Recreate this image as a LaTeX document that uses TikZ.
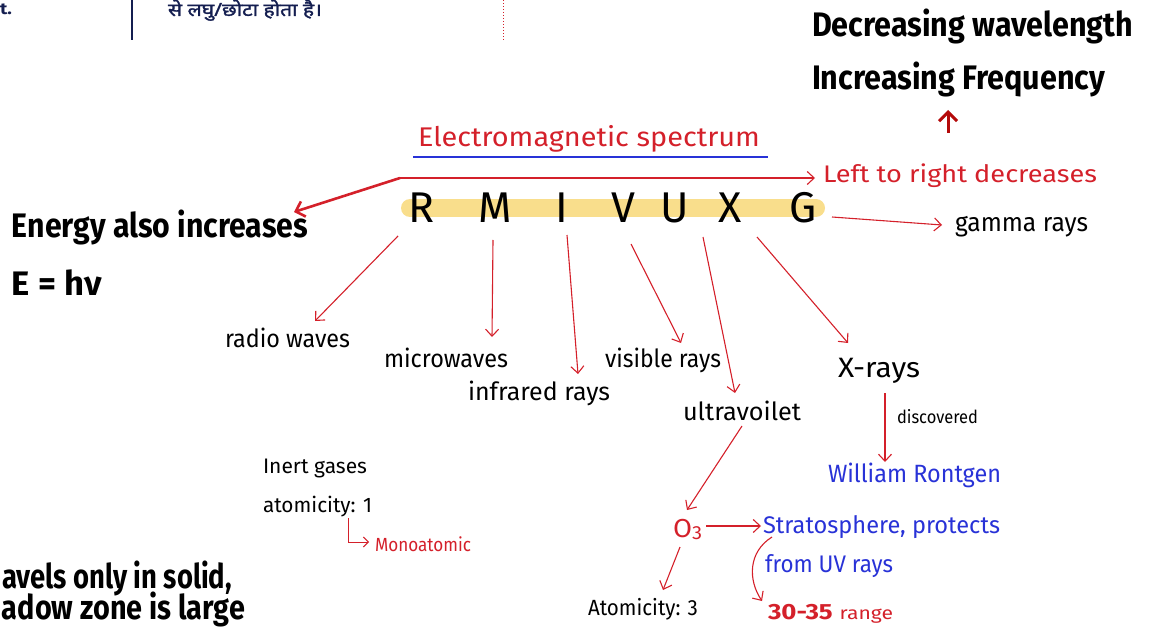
\documentclass[tikz,border=0pt]{standalone}
\usepackage{fontspec}
\setmainfont{Fira Sans}
\newfontfamily\deva[Script=Devanagari, FakeBold=1.5]{Noto Sans}
\usetikzlibrary{arrows.meta}
\definecolor{hred}{RGB}{212,32,42}
\definecolor{dred}{RGB}{180,10,10}
\definecolor{hblue}{RGB}{40,50,215}
\definecolor{hyel}{RGB}{249,222,140}
\definecolor{navy}{RGB}{20,30,80}
\newcommand{\fitw}[3]{\resizebox{#1pt}{\height}{\fontsize{#2}{#2}\selectfont #3}}
\tikzset{
  lab/.style={anchor=base west, inner sep=0pt, outer sep=0pt, text=black},
  rlab/.style={lab, text=hred},
  blab/.style={lab, text=hblue},
  harr/.style={draw=hred, line width=1.1pt, -{Straight Barb[length=7pt,width=13pt]}},
  letter/.style={anchor=base, inner sep=0pt, font=\fontsize{43}{43}\selectfont}
}
\begin{document}
\begin{tikzpicture}[x=1pt,y=-1pt]
\useasboundingbox (0,0) rectangle (1150,628);
% header strip
\node[lab, text=navy] (tdot) at (0,15) {\fitw{12}{16}{\bfseries t.}};
\coordinate (vl1) at (132,0); \coordinate (vl2) at (132,40);
\draw[navy, line width=2.5pt] (vl1) -- (vl2);
\node[lab, text=navy] (hindi) at (168,16) {\fitw{154}{18}{\deva से लघु/छोटा होता है।}};
\coordinate (dl1) at (503,0); \coordinate (dl2) at (503,42);
\draw[hred, line width=0.8pt, dash pattern=on 1.5pt off 1.5pt] (dl1) -- (dl2);
% titles top right
\node[lab] (dec) at (812,37) {\fitw{321}{34}{\bfseries Decreasing wavelength}};
\node[lab] (inc) at (812,90) {\fitw{293}{34}{\bfseries Increasing Frequency}};
\coordinate (upS) at (948,133); \coordinate (upE) at (948,110);
\draw[dred, line width=3pt, -{Straight Barb[length=9pt,width=18pt]}] (upS) -- (upE);
% title
\node[rlab] (ems) at (418,147) {\fitw{342}{27}{Electromagnetic spectrum}};
\coordinate (ul1) at (413,157); \coordinate (ul2) at (768,157);
\draw[hblue, line width=2pt] (ul1) -- (ul2);
% left to right
\coordinate (lrS) at (400,178); \coordinate (lrE) at (815,178);
\draw[harr] (lrS) -- (lrE);
\node[rlab] (ltr) at (823,183) {\fitw{274}{24}{Left to right decreases}};
\coordinate (enE) at (294,212);
\draw[hred, line width=2.6pt, -{Straight Barb[length=8pt,width=16pt]}] (lrS) -- (enE);
% yellow bar and letters
\coordinate (yb1) at (410,208); \coordinate (yb2) at (816,208);
\draw[hyel, line width=18pt, line cap=round] (yb1) -- (yb2);
\node[letter] (R) at (422,223) {R};
\node[letter] (M) at (495,223) {M};
\node[letter] (I) at (562,223) {I};
\node[letter] (V) at (623,223) {V};
\node[letter] (U) at (675,223) {U};
\node[letter] (X) at (730,223) {X};
\node[letter] (G) at (803,223) {G};
% gamma
\coordinate (gS) at (832,217); \coordinate (gE) at (942,225);
\draw[harr] (gS) -- (gE);
\node[lab] (gam) at (955,232) {\fitw{133}{26}{gamma rays}};
% energy
\node[lab] (energy) at (12,238) {\fitw{296}{34}{\bfseries Energy also increases}};
\node[lab] (ehv) at (12,295) {\fitw{90}{34}{\bfseries E = hν}};
% branches
\coordinate (rS) at (398,236); \coordinate (rE) at (315,321);
\draw[harr] (rS) -- (rE);
\node[lab] (radio) at (225,347) {\fitw{125}{25}{radio waves}};
\coordinate (mS) at (493,240); \coordinate (mE) at (492,337);
\draw[harr] (mS) -- (mE);
\node[lab] (micro) at (384,367) {\fitw{124}{25}{microwaves}};
\coordinate (iS) at (567,235); \coordinate (iE) at (578,374);
\draw[harr] (iS) -- (iE);
\node[lab] (infra) at (468,400) {\fitw{142}{25}{infrared rays}};
\coordinate (vS) at (631,244); \coordinate (vE) at (681,343);
\draw[harr] (vS) -- (vE);
\node[lab] (vis) at (605,367) {\fitw{116}{25}{visible rays}};
\coordinate (uS) at (703,237); \coordinate (uE) at (735,393);
\draw[harr] (uS) -- (uE);
\node[lab] (uv) at (683,420) {\fitw{118}{25}{ultravoilet}};
\coordinate (xS) at (757,237); \coordinate (xE) at (848,343);
\draw[harr] (xS) -- (xE);
\node[lab] (xr) at (838,377) {\fitw{82}{28}{X-rays}};
\coordinate (wS) at (885,393); \coordinate (wE) at (885,462);
\draw[harr] (wS) -- (wE);
\node[lab] (disc) at (897,423) {\fitw{81}{18}{discovered}};
\node[blab] (wrn) at (828,482) {\fitw{173}{25}{William Rontgen}};
% ozone
\coordinate (oS) at (742,426); \coordinate (oE) at (687,510);
\draw[harr] (oS) -- (oE);
\node[rlab] (o3) at (673,537) {\fitw{29}{26}{O\raisebox{-2pt}{\fontsize{19}{19}\selectfont 3}}};
\coordinate (sS) at (706,526); \coordinate (sE) at (761,526);
\draw[harr] (sS) -- (sE);
\node[blab] (strat) at (763,533) {\fitw{237}{24}{Stratosphere, protects}};
\node[blab] (fuv) at (765,572) {\fitw{128}{24}{from UV rays}};
\coordinate (cS) at (772,537); \coordinate (cE) at (762,601);
\draw[harr] (cS) .. controls (748,552) and (748,580) .. (cE);
\node[rlab] (rng) at (768,619) {\fitw{125}{22}{{\bfseries 30-35} {\fontsize{18}{18}\selectfont range}}};
\coordinate (aS) at (680,547); \coordinate (aE) at (663,590);
\draw[harr] (aS) -- (aE);
\node[lab] (at3) at (588,615) {\fitw{110}{22}{Atomicity: 3}};
% inert gases
\node[lab] (inert) at (263,473) {\fitw{104}{21}{Inert gases}};
\node[lab] (at1) at (263,512) {\fitw{109}{21}{atomicity: 1}};
\coordinate (hS) at (348,518); \coordinate (hE) at (369,542);
\draw[hred, line width=1pt, -{Straight Barb[length=5pt,width=10pt]}] (hS) |- (hE);
\node[rlab] (mono) at (375,551) {\fitw{96}{19}{Monoatomic}};
% bottom left
\node[lab] (trav) at (2,588) {\fitw{230}{34}{\bfseries avels only in solid,}};
\node[lab] (shad) at (2,619) {\fitw{243}{34}{\bfseries adow zone is large}};
\end{tikzpicture}
\end{document}
